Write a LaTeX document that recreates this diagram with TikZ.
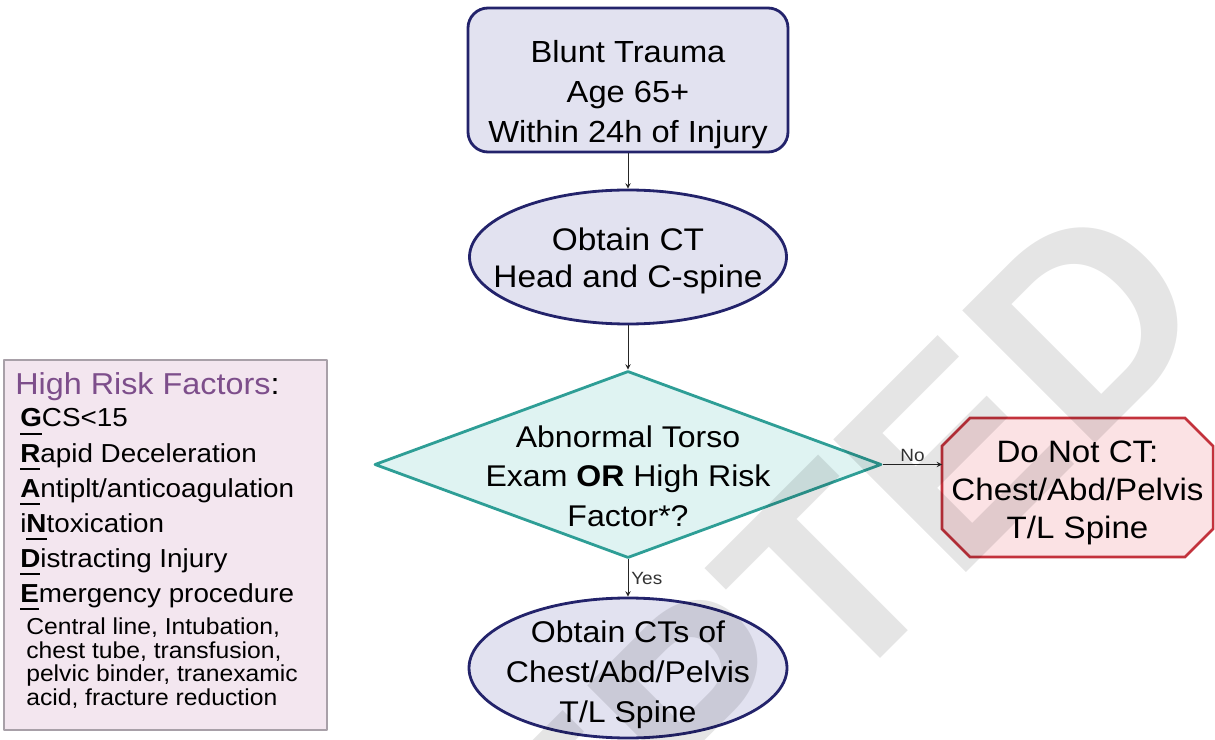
\documentclass[tikz,border=0pt]{standalone}
\usepackage{fontspec}
\setmainfont{Liberation Sans}[FakeStretch=1.07]
\newfontfamily\wmfont{Liberation Sans}
\usetikzlibrary{shapes.geometric,backgrounds,positioning}
\definecolor{navyline}{HTML}{23236B}
\definecolor{lavfill}{HTML}{E2E2F0}
\definecolor{tealline}{HTML}{2E9E96}
\definecolor{tealfill}{HTML}{DFF3F2}
\definecolor{redline}{HTML}{C3323C}
\definecolor{redfill}{HTML}{FBE2E4}
\definecolor{riskfill}{HTML}{F3E6EF}
\definecolor{riskline}{HTML}{A8A0A8}
\definecolor{riskpurple}{HTML}{7D4E8B}
\newdimen\pxu \pxu=0.025cm
\newcommand\keyltr[1]{\setbox0=\hbox{\bfseries#1}\rlap{\rule[-5.9pt]{\wd0}{1.8pt}}\box0}

\begin{document}
\begin{tikzpicture}[x=1\pxu, y=-1\pxu, >=stealth, line join=round,
    flow/.style={->, line width=0.7pt, draw=black!85},
    lbl/.style={font=\fontsize{12.6}{14}\selectfont, text=black!80, inner sep=2pt}]
  \tikzset{
    startbox/.style={draw=navyline, fill=lavfill, line width=2pt, rounded corners=20\pxu,
      minimum width=320\pxu, minimum height=144\pxu, inner sep=0},
    procell/.style={ellipse, draw=navyline, fill=lavfill, line width=2pt,
      minimum width=317\pxu, minimum height=134\pxu, inner sep=0},
    decision/.style={diamond, draw=tealline, fill=tealfill, line width=2pt,
      minimum width=507\pxu, minimum height=187\pxu, inner sep=0},
    stopbox/.style={align=center, inner sep=0, outer sep=0,
      minimum width=271\pxu, minimum height=139\pxu, font=\fontsize{22}{27}\selectfont},
    stopline/.style={draw=redline, fill=redfill, line width=1.8pt},
    flowtext/.style={align=center, inner sep=0},
    riskbox/.style={draw=riskline, fill=riskfill, line width=1pt,
      minimum width=323\pxu, minimum height=370\pxu, inner sep=0},
    risktitle/.style={anchor=base west, inner sep=0, font=\fontsize{21.5}{24}\selectfont},
    riskitem/.style={anchor=base west, inner sep=0, font=\fontsize{18.5}{20}\selectfont},
    risknote/.style={anchor=north west, align=left, inner sep=0,
      font=\fontsize{16.4}{16.6}\selectfont},
    wmark/.style={font=\wmfont\bfseries\fontsize{194}{194}\selectfont, text=black,
      text opacity=0.10, inner sep=0}
  }
  \useasboundingbox (0,0) rectangle (1215,740);
  \clip (0,0) rectangle (1215,740);

  % high risk factors
  \node[riskbox] (hrf) at (165.5,545) {};
  \node[risktitle] (hrf-title) at (15,395) {\textcolor{riskpurple}{High Risk Factors}:};
  \foreach \pre/\ltr/\post [count=\i] in {/G/CS<15, /R/apid Deceleration, /A/{ntiplt/anticoagulation},
      i/N/toxication, /D/istracting Injury, /E/mergency procedure}
    \node[riskitem] (hrf-\i) at (20,{392+35*\i}) {\pre\keyltr{\ltr}\post};
  \node[risknote] (hrf-note) at (26,618) {Central line, Intubation,\\chest tube, transfusion,\\pelvic binder, tranexamic\\acid, fracture reduction};

  % flow
  \node[startbox] (start) at (628,80) {};
  \node[flowtext, font=\fontsize{21.7}{28.5}\selectfont] (start-txt) at ([yshift=-14.5\pxu]start.center)
    {Blunt Trauma\\Age 65+\\Within 24h of Injury};
  \node[procell] (ct1) at (628,257) {};
  \node[flowtext, font=\fontsize{22.2}{26.3}\selectfont] (ct1-txt) at ([yshift=-4\pxu]ct1.center)
    {Obtain CT\\Head and C-spine};
  \node[decision] (dec) at (628,464.5) {};
  \node[flowtext, font=\fontsize{21.3}{28}\selectfont] (dec-txt) at ([yshift=-11.5\pxu]dec.center)
    {Abnormal Torso\\Exam \textbf{OR} High Risk\\Factor*?};
  \node[stopbox] (noct) at (1077.5,487.5) {\rule{0pt}{23pt}Do Not CT:\\Chest/Abd/Pelvis\\T/L Spine};
  \begin{scope}[on background layer]
    \draw[stopline] ([xshift=28\pxu]noct.north west) -- ([xshift=-28\pxu]noct.north east)
      -- ([yshift=-28\pxu]noct.north east) -- ([yshift=28\pxu]noct.south east)
      -- ([xshift=-28\pxu]noct.south east) -- ([xshift=28\pxu]noct.south west)
      -- ([yshift=28\pxu]noct.south west) -- ([yshift=-28\pxu]noct.north west) -- cycle;
  \end{scope}
  \node[procell, minimum width=318\pxu, minimum height=140\pxu] (ct2) at (628,668) {};
  \node[flowtext, font=\fontsize{21.3}{28.5}\selectfont] (ct2-txt) at ([yshift=-6.5\pxu]ct2.center)
    {Obtain CTs of\\Chest/Abd/Pelvis\\T/L Spine};

  \draw[flow] (start.south) -- (ct1.north);
  \draw[flow] (ct1.south) -- (dec.north);
  \draw[flow] (dec.east) -- node[lbl, above] (no-lbl) {No} (dec.east -| noct.west);
  \draw[flow] (dec.south) -- node[lbl, right] (yes-lbl) {Yes} (ct2.north);

  \node[wmark, rotate=45, anchor=base east] (wm) at (1222,317) {ACCEPTED};
\end{tikzpicture}
\end{document}
